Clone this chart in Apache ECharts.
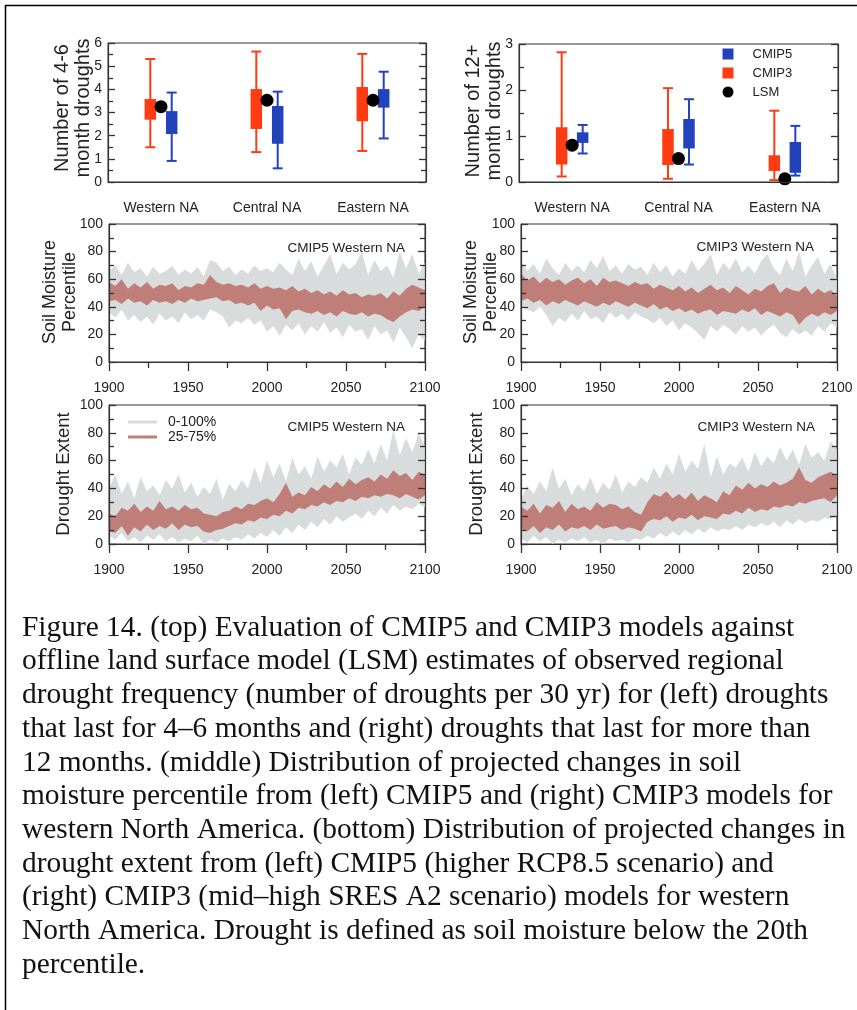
<!DOCTYPE html>
<html><head><meta charset="utf-8">
<script src="https://cdn.jsdelivr.net/npm/echarts@6/dist/echarts.min.js"></script>
<style>html,body{margin:0;padding:0;background:#fff}#c{width:857px;height:1010px}</style>
</head><body><div id="c"></div>
<script>
// ---------- DATA ----------
const regions = ['Western NA', 'Central NA', 'Eastern NA'];
// box data: [min, q25, q75, max]
const short_cmip3 = [[1.50, 2.69, 3.58, 5.31], [1.29, 2.29, 4.01, 5.63], [1.34, 2.62, 4.10, 5.53]];
const short_cmip5 = [[0.91, 2.07, 3.06, 3.86], [0.59, 1.65, 3.28, 3.90], [1.88, 3.21, 4.01, 4.76]];
const short_lsm = [3.25, 3.53, 3.53];
const long_cmip3 = [[0.12, 0.38, 1.19, 2.82], [0.07, 0.37, 1.15, 2.04], [0.04, 0.24, 0.58, 1.55]];
const long_cmip5 = [[0.62, 0.85, 1.08, 1.24], [0.38, 0.73, 1.37, 1.80], [0.14, 0.20, 0.87, 1.22]];
const long_lsm = [0.80, 0.51, 0.07];

const years = [1900,1904,1908,1912,1916,1920,1924,1928,1932,1936,1940,1944,1948,1952,1956,1960,1964,1968,1972,1976,1980,1984,1988,1992,1996,2000,2004,2008,2012,2016,2020,2024,2028,2032,2036,2040,2044,2048,2052,2056,2060,2064,2068,2072,2076,2080,2084,2088,2092,2096,2100];

// CMIP5 soil moisture percentile, western NA
const sm5_max = [66,70,63,72,65,68,62,69,64,66,70,63,67,64,69,62,74,72,66,69,63,67,64,70,66,68,65,72,67,63,75,66,73,62,70,78,64,72,67,71,80,63,74,66,70,61,80,68,78,64,72];
const sm5_min = [36,32,38,30,34,29,33,27,35,30,33,28,36,31,34,30,38,36,33,25,30,28,32,27,30,22,26,19,27,23,28,20,26,22,29,21,25,18,27,22,24,16,26,20,23,14,25,18,10,20,15];
const sm5_q75 = [58,55,60,53,57,54,58,53,56,55,57,52,55,54,57,56,63,58,56,57,55,56,54,57,53,55,53,54,52,55,51,53,50,52,49,51,48,52,49,50,47,49,48,50,46,51,48,53,56,54,52];
const sm5_q25 = [44,45,42,46,43,44,41,45,43,44,42,45,43,46,44,45,46,47,44,45,42,43,41,43,37,41,38,39,31,37,38,36,35,37,34,36,33,37,35,34,36,33,35,34,31,29,33,36,38,37,40];

// CMIP3 soil moisture percentile, western NA
const sm3_max = [73,66,71,64,75,68,63,72,66,70,65,74,68,77,66,70,64,71,67,69,63,72,65,70,62,68,64,74,66,71,78,63,72,67,75,65,70,64,73,78,68,63,75,66,80,62,70,76,64,71,60];
const sm3_min = [41,38,36,40,34,26,32,29,35,30,37,31,33,28,36,32,35,30,36,33,31,28,32,26,30,23,28,25,21,16,26,22,27,24,20,26,22,25,19,24,27,21,18,24,20,23,19,26,22,28,25];
const sm3_q75 = [64,59,62,57,61,58,60,56,59,61,57,60,55,61,58,59,57,55,58,56,57,53,56,54,52,55,51,54,50,53,56,52,54,50,55,52,49,53,51,55,57,50,54,52,51,55,49,53,50,52,48];
const sm3_q25 = [44,46,43,45,41,44,42,45,43,41,44,42,40,43,41,44,42,40,43,41,39,42,38,40,37,39,36,38,35,37,38,34,37,36,35,38,36,39,34,37,35,33,36,34,27,32,35,33,36,34,37];

// CMIP5 drought extent, western NA
const de5_max = [40,50,36,45,33,48,38,42,35,46,40,50,37,44,34,41,36,47,32,43,38,46,40,55,44,60,48,58,45,62,50,56,47,63,52,60,55,65,50,62,57,68,58,72,60,82,64,76,66,80,70];
const de5_min = [6,3,8,2,5,1,6,3,7,2,5,1,4,2,6,0,3,1,4,2,5,3,7,4,8,5,10,6,12,8,14,10,16,12,18,14,20,16,19,22,18,24,20,26,22,28,24,27,25,29,26];
const de5_q75 = [22,20,26,24,29,23,27,24,31,25,27,24,28,25,26,22,21,20,23,24,27,25,29,28,31,33,30,36,44,34,37,35,41,38,43,40,45,41,47,43,46,48,45,50,47,53,49,51,46,52,50];
const de5_q25 = [9,8,13,6,12,9,14,10,13,11,15,10,14,12,13,9,8,10,11,13,15,14,17,16,19,18,21,20,24,22,26,25,28,27,30,28,31,30,33,31,34,33,35,34,36,35,33,36,34,32,35];

// CMIP3 drought extent, western NA
const de3_max = [32,42,36,45,38,55,40,47,35,43,38,48,36,44,39,50,37,45,41,48,44,55,47,58,50,65,52,60,54,72,48,63,50,58,55,62,52,66,56,63,58,70,60,68,57,72,62,66,60,74,68];
const de3_min = [4,1,6,2,5,0,3,1,4,2,5,1,3,0,4,2,3,1,4,3,6,4,8,5,9,6,10,7,11,8,12,9,11,10,13,10,14,12,15,13,16,12,17,14,18,15,17,16,19,18,20];
const de3_q75 = [27,24,29,22,28,26,31,23,29,25,27,24,30,26,29,28,25,27,23,21,30,36,34,38,33,36,32,37,31,35,33,30,38,35,42,39,44,40,43,41,45,42,44,47,55,46,44,48,50,52,49];
const de3_q25 = [11,9,13,8,12,10,14,9,12,11,13,10,14,11,12,13,10,12,11,9,16,18,17,20,16,19,18,21,17,20,19,18,22,21,24,22,26,23,25,24,27,26,28,27,30,29,31,32,33,30,35];

const captionLines = [
  'Figure 14. (top) Evaluation of CMIP5 and CMIP3 models against',
  'offline land surface model (LSM) estimates of observed regional',
  'drought frequency (number of droughts per 30 yr) for (left) droughts',
  'that last for 4\u20136 months and (right) droughts that last for more than',
  '12 months. (middle) Distribution of projected changes in soil',
  'moisture percentile from (left) CMIP5 and (right) CMIP3 models for',
  'western North America. (bottom) Distribution of projected changes in',
  'drought extent from (left) CMIP5 (higher RCP8.5 scenario) and',
  '(right) CMIP3 (mid\u2013high SRES A2 scenario) models for western',
  'North America. Drought is defined as soil moisture below the 20th',
  'percentile.'
];

// ---------- STYLE ----------
const RED = '#ff3b12', BLUE = '#2343bd', GRAY = '#d9dcdc', BAND = '#bf7e77';
const AX = '#333';
const SANS = '"Liberation Sans", Arial, Helvetica, sans-serif';

const grids = [
  {left: 108, top: 43, width: 318, height: 139},
  {left: 519, top: 44, width: 319, height: 138},
  {left: 109, top: 224, width: 316, height: 138},
  {left: 521, top: 224, width: 316, height: 138},
  {left: 109, top: 405, width: 316, height: 139},
  {left: 521, top: 405, width: 316, height: 139}
].map(g => Object.assign(g, {show: true, borderColor: AX, borderWidth: 1, backgroundColor: 'transparent'}));

const xAxes = [];
for (let i = 0; i < 6; i++) {
  if (i < 2) {
    xAxes.push({type: 'category', gridIndex: i, data: regions, boundaryGap: true, z: 10,
      axisLine: {lineStyle: {color: AX, width: 1.2}},
      axisTick: {alignWithLabel: true, length: 10, lineStyle: {color: AX, width: 1.5}},
      axisLabel: {margin: 19, fontSize: 14, color: '#222', fontFamily: SANS}});
  } else {
    xAxes.push({type: 'value', gridIndex: i, min: 1900, max: 2100, interval: 50, z: 10,
      axisLine: {lineStyle: {color: AX, width: 1.2}},
      axisTick: {show: true, length: 9, lineStyle: {color: AX, width: 1.3}},
      minorTick: {show: true, splitNumber: 2, length: 6, lineStyle: {color: AX, width: 1.3}},
      splitLine: {show: false},
      axisLabel: {margin: 19, fontSize: 14, color: '#222', fontFamily: SANS, formatter: v => String(v)}});
  }
}
const yRange = [[0, 6, 1], [0, 3, 1], [0, 100, 20], [0, 100, 20], [0, 100, 20], [0, 100, 20]];
const yAxes = [];
for (let side = 0; side < 2; side++) {
  for (let i = 0; i < 6; i++) {
    const r = yRange[i];
    yAxes.push({type: 'value', gridIndex: i, position: side ? 'right' : 'left', min: r[0], max: r[1], interval: r[2], z: 10,
      axisLine: {show: true, lineStyle: {color: AX, width: 1.2}},
      axisTick: {show: true, inside: true, length: 7, lineStyle: {color: AX, width: 1.3}},
      minorTick: {show: true, splitNumber: 2, length: 5, lineStyle: {color: AX, width: 1.3}},
      splitLine: {show: false},
      axisLabel: {show: !side, margin: 6, fontSize: 14, color: '#222', fontFamily: SANS}});
  }
}

function boxRender(offset, color) {
  return function (params, api) {
    const c = api.value(0);
    const pMin = api.coord([c, api.value(1)]);
    const pQ1 = api.coord([c, api.value(2)]);
    const pQ3 = api.coord([c, api.value(3)]);
    const pMax = api.coord([c, api.value(4)]);
    const x = pMin[0] + offset, hw = 5.75, cw = 5;
    const st = {stroke: color, lineWidth: 2};
    return {type: 'group', children: [
      {type: 'line', shape: {x1: x, y1: pMin[1], x2: x, y2: pMax[1]}, style: st},
      {type: 'line', shape: {x1: x - cw, y1: pMin[1], x2: x + cw, y2: pMin[1]}, style: st},
      {type: 'line', shape: {x1: x - cw, y1: pMax[1], x2: x + cw, y2: pMax[1]}, style: st},
      {type: 'rect', shape: {x: x - hw, y: pQ3[1], width: 2 * hw, height: pQ1[1] - pQ3[1]}, style: {fill: color}}
    ]};
  };
}
function boxSeries(gi, name, arr, offset, color) {
  return {type: 'custom', name: name, xAxisIndex: gi, yAxisIndex: gi, z: 3,
    itemStyle: {color: color},
    encode: {x: 0, y: [1, 2, 3, 4]},
    data: arr.map((d, i) => [i].concat(d)),
    renderItem: boxRender(offset, color)};
}
function lsmSeries(gi, arr) {
  return {type: 'scatter', name: 'LSM', xAxisIndex: gi, yAxisIndex: gi, z: 5,
    symbolSize: 13, itemStyle: {color: '#000', opacity: 1},
    data: arr.map((v, i) => [i, v])};
}
// a filled band between lo and hi, drawn as one polygon through the axes' coordinates
function bandPoly(gi, name, lo, hi, color, z) {
  return {type: 'custom', name: name, xAxisIndex: gi, yAxisIndex: gi, silent: true, z: z,
    itemStyle: {color: color},
    encode: {x: 0, y: [1, 2]},
    data: years.map((y, i) => [y, lo[i], hi[i]]),
    renderItem: function (params, api) {
      if (params.dataIndex !== 0) return null;
      const pts = [];
      for (let k = 0; k < years.length; k++) pts.push(api.coord([years[k], hi[k]]));
      for (let k = years.length - 1; k >= 0; k--) pts.push(api.coord([years[k], lo[k]]));
      return {type: 'polygon', shape: {points: pts}, style: {fill: color}};
    }};
}
function bandSeries(gi, lo, hi, q25, q75) {
  return [bandPoly(gi, '0-100%', lo, hi, GRAY, 2), bandPoly(gi, '25-75%', q25, q75, BAND, 3)];
}

const series = [
  boxSeries(0, 'CMIP3', short_cmip3, -10.7, RED),
  boxSeries(0, 'CMIP5', short_cmip5, 10.7, BLUE),
  lsmSeries(0, short_lsm),
  boxSeries(1, 'CMIP3', long_cmip3, -10.5, RED),
  boxSeries(1, 'CMIP5', long_cmip5, 10.5, BLUE),
  lsmSeries(1, long_lsm)
].concat(
  bandSeries(2, sm5_min, sm5_max, sm5_q25, sm5_q75),
  bandSeries(3, sm3_min, sm3_max, sm3_q25, sm3_q75),
  bandSeries(4, de5_min, de5_max, de5_q25, de5_q75),
  bandSeries(5, de3_min, de3_max, de3_q25, de3_q75)
);

function rotLabel(x, y, text, size, lh) {
  return {type: 'text', x: x, y: y, rotation: Math.PI / 2, z: 20,
    style: {text: text, align: 'center', verticalAlign: 'middle', fontSize: size, lineHeight: lh,
      fontFamily: SANS, fill: '#222'}};
}
function panelTitle(xr, y, text) {
  return {type: 'text', x: xr, y: y, z: 20,
    style: {text: text, align: 'right', verticalAlign: 'middle', fontSize: 13.5, fontFamily: SANS, fill: '#222'}};
}

const graphic = [
  {type: 'rect', shape: {x: 5.5, y: 5.5, width: 900, height: 1100}, style: {fill: 'none', stroke: '#000', lineWidth: 1.5}, z: 0},
  rotLabel(72.5, 108, 'Number of 4-6\nmonth droughts', 20, 21),
  rotLabel(484, 111, 'Number of 12+\nmonth droughts', 20, 21),
  rotLabel(60, 292, 'Soil Moisture\nPercentile', 18, 20),
  rotLabel(481, 292, 'Soil Moisture\nPercentile', 18, 20),
  rotLabel(63.5, 474, 'Drought Extent', 18.5, 20),
  rotLabel(477, 474, 'Drought Extent', 18.5, 20),
  panelTitle(405, 248, 'CMIP5 Western NA'),
  panelTitle(814, 247, 'CMIP3 Western NA'),
  panelTitle(405, 427, 'CMIP5 Western NA'),
  panelTitle(815, 427, 'CMIP3 Western NA')
].concat(captionLines.map((t, i) => ({
  type: 'text', x: 22, y: 628 + i * 33.7, z: 20,
  style: {text: t, align: 'left', verticalAlign: 'middle', fontSize: 29.4,
    fontFamily: '"Liberation Serif", "Times New Roman", serif', fill: '#111'}
})));

const chart = echarts.init(document.getElementById('c'), null, {renderer: 'canvas'});
chart.setOption({
  animation: false,
  backgroundColor: '#fff',
  grid: grids,
  xAxis: xAxes,
  yAxis: yAxes,
  legend: [
    {orient: 'vertical', left: 722.5, top: 46, itemWidth: 11, itemHeight: 11, itemGap: 3, padding: 0,
      selectedMode: false,
      textStyle: {fontSize: 13, lineHeight: 16, color: '#222', fontFamily: SANS, padding: [0, 0, 0, 14]},
      data: [{name: 'CMIP5', icon: 'rect', itemStyle: {color: BLUE}},
             {name: 'CMIP3', icon: 'rect', itemStyle: {color: RED}},
             {name: 'LSM', icon: 'circle', itemStyle: {color: '#000'}}]},
    {orient: 'vertical', left: 128, top: 414.5, itemWidth: 29, itemHeight: 3, itemGap: 0, padding: 0,
      selectedMode: false,
      textStyle: {fontSize: 14, lineHeight: 15, color: '#222', fontFamily: SANS, padding: [0, 0, 0, 6]},
      data: [{name: '0-100%', icon: 'rect', itemStyle: {color: GRAY}},
             {name: '25-75%', icon: 'rect', itemStyle: {color: BAND}}]}
  ],
  series: series,
  graphic: graphic
});
</script>
</body></html>
